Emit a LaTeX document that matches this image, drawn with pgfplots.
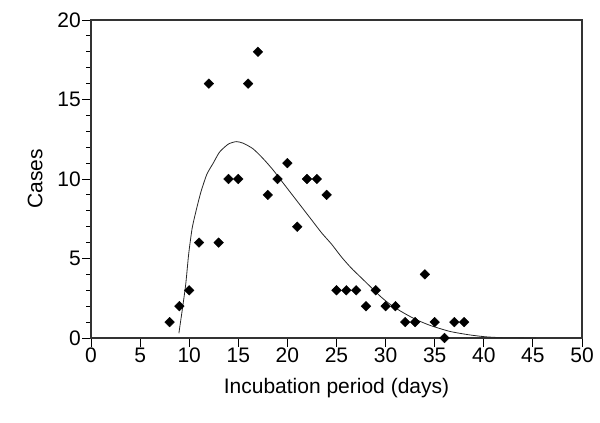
\documentclass[border=0pt]{standalone}
\usepackage{pgfplots}
\pgfplotsset{compat=1.18}
\usepackage{fontspec}
\setmainfont{Liberation Sans}

\begin{document}
\begin{tikzpicture}[x=1pt,y=1pt]
\path (0,0) rectangle (600,423);
\begin{axis}[
  at={(91pt,85pt)}, anchor=south west,
  scale only axis, width=491pt, height=318pt,
  xmin=0, xmax=50, ymin=0, ymax=20,
  xtick={0,5,...,50}, ytick={0,5,10,15,20},
  minor y tick num=4,
  tick align=outside, tick pos=left,
  major tick length=9pt, minor tick length=5pt,
  every tick/.style={black, line width=0.9pt},
  axis line style={line width=1.4pt, black!80},
  ticklabel style={font=\fontsize{21}{24}\selectfont, inner sep=1pt},
  /pgf/number format/assume math mode=true,
  xlabel={Incubation period (days)}, ylabel={Cases},
  label style={font=\fontsize{21}{24}\selectfont},
  xlabel style={at={(axis description cs:0.5,-0.157)}, anchor=center},
  ylabel style={at={(axis description cs:-0.114,0.5)}, anchor=center},
  clip=false,
]
\addplot[only marks, mark=square*, mark size=3.4pt,
  every mark/.append style={rotate=45, fill=black}] coordinates {
(8,1) (9,2) (10,3) (11,6) (12,16) (13,6) (14,10) (15,10) (16,16) (17,18)
(18,9) (19,10) (20,11) (21,7) (22,10) (23,10) (24,9) (25,3) (26,3) (27,3)
(28,2) (29,3) (30,2) (31,2) (32,1) (33,1) (34,4) (35,1) (36,0) (37,1) (38,1)
};
\addplot[black!85, line width=0.8pt, smooth, tension=0.4] coordinates {
(8.95,0.3) (9.3,1.8) (9.65,3.4) (9.95,5.3) (10.3,6.9) (10.7,8.0) (11.2,9.2)
(11.8,10.3) (12.45,11.0) (13.1,11.7) (14,12.2) (14.8,12.35) (15.5,12.25)
(16.5,11.9) (17.5,11.3) (18.5,10.6) (19.5,9.8) (20.5,9.0) (21.5,8.2)
(22.5,7.4) (23.5,6.6) (24.5,5.9) (25.5,5.1) (26.5,4.4) (27.5,3.8)
(28.5,3.2) (29.5,2.6) (30.5,2.1) (31.5,1.7) (32.5,1.35) (33.5,1.05)
(34.5,0.8) (35.5,0.6) (36.5,0.42) (37.5,0.3) (38.5,0.2) (39.5,0.12)
(40.5,0.06) (42,0.02) (45.3,0)
};
\end{axis}
\end{tikzpicture}
\end{document}
